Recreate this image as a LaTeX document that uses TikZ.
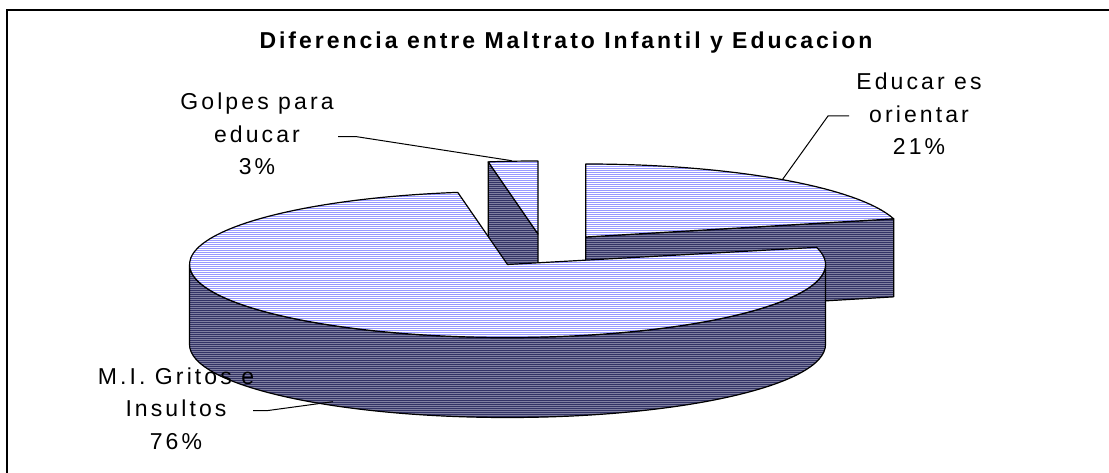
\documentclass[tikz,border=0pt]{standalone}
\usepackage{fontspec}
\newfontfamily\lblfont[LetterSpace=13.5]{Liberation Sans}
\newfontfamily\ttlfont[LetterSpace=13]{Liberation Sans}
\usetikzlibrary{calc,patterns.meta}
\definecolor{lightstripe}{RGB}{153,153,255}
\definecolor{darkbase}{RGB}{128,128,160}
\definecolor{darkstripe}{RGB}{51,51,102}
\tikzset{
  topface/.style={preaction={fill=white}, pattern={Lines[angle=0,distance=2pt,line width=1pt]}, pattern color=lightstripe, draw=black, line width=1.2pt, line join=round},
  sideface/.style={preaction={fill=darkbase}, pattern={Lines[angle=0,distance=2pt,line width=1pt]}, pattern color=darkstripe, draw=black, line width=1.2pt, line join=round},
  lbl/.style={font={\lblfont\fontsize{23}{32.5}\selectfont}, align=center, inner sep=0pt, anchor=north},
  ttl/.style={font={\ttlfont\bfseries\fontsize{23}{26}\selectfont}, inner sep=0pt, anchor=base},
  leader/.style={draw=black, line width=1pt},
  frameline/.style={draw=black, line width=2pt}
}
\begin{document}
\begin{tikzpicture}[x=1pt,y=1pt]
\useasboundingbox (0,0) rectangle (1109,473);
\coordinate (Cb) at (507.5,208.5);
\coordinate (G) at (538,239);
\coordinate (E) at (585.7,236);

% Golpes para educar (3%)
\path[sideface] (G) -- ($(G)+(99:318 and 73)$) -- ++(0,-80) -- ($(G)+(0,-80)$) -- cycle;
\path[topface] (G) -- ($(G)+(90:318 and 73)$) arc[start angle=90,end angle=99,x radius=318,y radius=73] -- cycle;

% Educar es orientar (21%)
\path[sideface] (E) -- ($(E)+(14.4:318 and 73)$) -- ++(0,-78) -- ($(E)+(0,-78)$) -- cycle;
\path[topface] (E) -- ($(E)+(14.4:318 and 73)$) arc[start angle=14.4,end angle=90,x radius=318,y radius=73] -- cycle;

% M.I. Gritos e Insultos (76%)
\path[sideface] ($(Cb)+(180:318 and 73)$) arc[start angle=180,end angle=360,x radius=318,y radius=73] -- ++(0,-80) arc[start angle=360,end angle=180,x radius=318,y radius=73] -- cycle;
\path[topface] (Cb) -- ($(Cb)+(13.6:318 and 73)$) arc[start angle=13.6,end angle=-261,x radius=318,y radius=73] -- cycle;

% leaders
\coordinate (gs) at (338,336.3);
\coordinate (gk) at (356.7,336.3);
\coordinate (gt) at (511.7,312.3);
\draw[leader] (gs) -- (gk) -- (gt);
\coordinate (es) at (849,357);
\coordinate (ek) at (828,357);
\coordinate (et) at (782.5,293.5);
\draw[leader] (es) -- (ek) -- (et);
\coordinate (ms) at (253,62.3);
\coordinate (mk) at (266.7,62.3);
\coordinate (mt) at (333,71.3);
\draw[leader] (ms) -- (mk) -- (mt);

% labels
\node[lbl] (golpes) at (257,380) {Golpes para\\educar\\3\%};
\node[lbl] (educar) at (919,400) {Educar es\\orientar\\21\%};
\node[lbl] (gritos) at (176,105.5) {M.I. Gritos e\\Insultos\\76\%};
\node[ttl] (title) at (566,424.7) {Diferencia entre Maltrato Infantil y Educacion};

% frame
\draw[frameline] (6.5,-5) -- (6.5,462.5) -- (1115,462.5);
\end{tikzpicture}
\end{document}
